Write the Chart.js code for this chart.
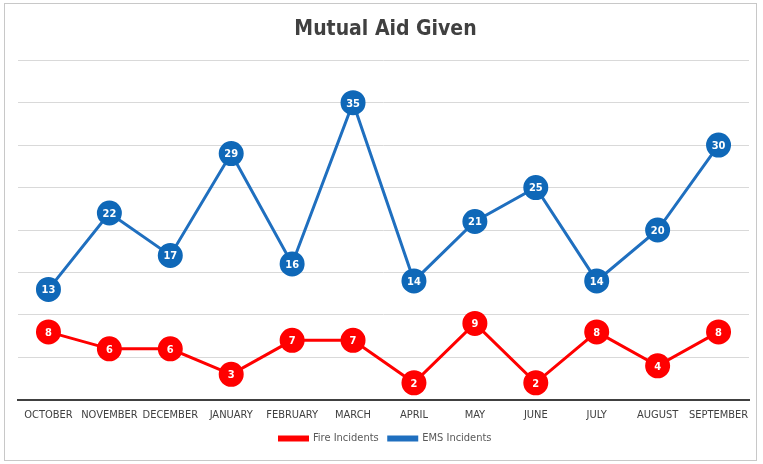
<!DOCTYPE html>
<html>
<head>
<meta charset="utf-8">
<script src="https://cdn.jsdelivr.net/npm/chart.js@4.4.1/dist/chart.umd.min.js"></script>
<style>
  body { margin: 0; background: #fff; }
  #wrap { position: relative; width: 763px; height: 464px; }
</style>
</head>
<body>
<div id="wrap"><canvas id="myChart" width="763" height="464"></canvas></div>
<script>
'use strict';

//********************* Data *************************/
let months = ['OCTOBER', 'NOVEMBER', 'DECEMBER', 'JANUARY', 'FEBRUARY', 'MARCH', 'APRIL', 'MAY', 'JUNE', 'JULY', 'AUGUST', 'SEPTEMBER'];
let fireIncidents = [8, 6, 6, 3, 7, 7, 2, 9, 2, 8, 4, 8];
let emsIncidents = [13, 22, 17, 29, 16, 35, 14, 21, 25, 14, 20, 30];

let fontName = "'Liberation Sans Narrow', 'DejaVu Sans Condensed', 'Liberation Sans', sans-serif";

//********************* Plugins *************************/
// light frame round the whole picture
let framePlugin = {
  id: 'frame',
  beforeDraw(chart) {
    let c = chart.ctx;
    c.save();
    c.fillStyle = '#fff';
    c.fillRect(0, 0, chart.width, chart.height);
    c.strokeStyle = '#c8c8c8';
    c.lineWidth = 1;
    c.strokeRect(4.5, 3.5, 752, 457);
    c.restore();
  }
};

// values written inside the markers
let valueLabels = {
  id: 'valueLabels',
  afterDatasetsDraw(chart) {
    let c = chart.ctx;
    c.save();
    c.fillStyle = '#fff';
    c.font = 'bold 11px ' + fontName;
    c.textAlign = 'center';
    c.textBaseline = 'middle';
    chart.data.datasets.forEach((ds, i) => {
      let meta = chart.getDatasetMeta(i);
      meta.data.forEach((pt, j) => {
        c.fillText(ds.data[j], pt.x, pt.y + 1);
      });
    });
    c.restore();
  }
};

//********************* Chart *************************/
const ctx = document.getElementById('myChart').getContext('2d');

const myChart = new Chart(ctx, {
  type: 'line',
  data: {
    labels: months,
    datasets: [{
      label: 'Fire Incidents',
      data: fireIncidents,
      borderColor: '#ff0000',
      backgroundColor: '#ff0000',
      pointBackgroundColor: '#ff0000',
      pointBorderColor: '#ff0000',
      pointRadius: 11,
      borderWidth: 3,
      tension: 0
    },
    {
      label: 'EMS Incidents',
      data: emsIncidents,
      borderColor: '#1f6fbf',
      backgroundColor: '#1f6fbf',
      pointBackgroundColor: '#0f68b8',
      pointBorderColor: '#0f68b8',
      pointRadius: 11,
      borderWidth: 3,
      tension: 0
    }]
  },
  options: {
    responsive: false,
    animation: false,
    layout: {
      padding: { left: 18, right: 10, top: 6, bottom: 10 }
    },
    plugins: {
      title: {
        display: true,
        text: 'Mutual Aid Given',
        color: '#404040',
        font: { family: fontName, size: 21, weight: 'bold' },
        padding: { top: 11, bottom: 18 }
      },
      legend: {
        position: 'bottom',
        labels: {
          color: '#595959',
          font: { family: fontName, size: 11 },
          boxWidth: 28,
          boxHeight: 3,
          padding: 10
        }
      },
      tooltip: { enabled: false }
    },
    scales: {
      x: {
        offset: true,
        grid: { display: false },
        border: { display: true, color: '#404040', width: 2 },
        ticks: {
          color: '#404040',
          font: { family: fontName, size: 11 },
          maxRotation: 0,
          autoSkip: false,
          padding: 1
        }
      },
      y: {
        min: 0,
        max: 40,
        ticks: { display: false, stepSize: 5 },
        border: { display: false },
        grid: { color: '#d9d9d9', lineWidth: 1, drawTicks: false }
      }
    }
  },
  plugins: [framePlugin, valueLabels]
});
</script>
</body>
</html>
